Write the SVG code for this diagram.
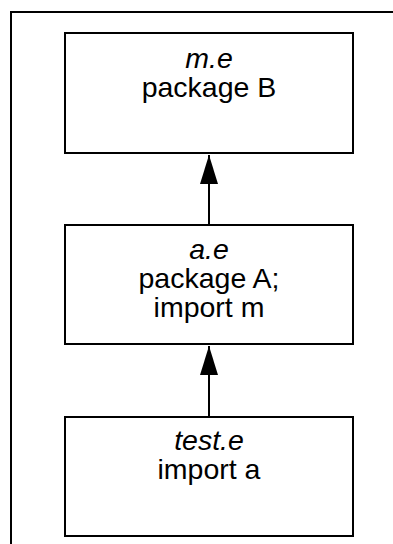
<svg xmlns="http://www.w3.org/2000/svg" width="393" height="544" viewBox="0 0 393 544">
<defs>
<style>
.box{fill:#fff;stroke:#000;stroke-width:2}
.t{font-family:"Liberation Sans",Arial,sans-serif;font-size:28.5px;text-anchor:middle;fill:#000}
.i{font-style:italic}
.c{stroke:#000;stroke-width:2;fill:none}
</style>
<marker id="ah" markerUnits="userSpaceOnUse" markerWidth="29" markerHeight="18" refX="29" refY="9" orient="auto" viewBox="0 0 29 18">
<path d="M0,0 L29,9 L0,18 Z" fill="#000"/>
</marker>
</defs>
<rect width="393" height="544" fill="#fff"/>
<path d="M11,544 V12 H393" fill="none" stroke="#000" stroke-width="2"/>
<g id="connectors">
<line class="c" x1="209" y1="225" x2="209" y2="155" marker-end="url(#ah)"/>
<line class="c" x1="209" y1="417" x2="209" y2="346" marker-end="url(#ah)"/>
</g>
<g id="m_e">
<rect class="box" x="65" y="33" width="288" height="120"/>
<text class="t i" x="209" y="68">m.e</text>
<text class="t" x="209" y="97">package B</text>
</g>
<g id="a_e">
<rect class="box" x="65" y="225" width="288" height="119"/>
<text class="t i" x="209" y="259">a.e</text>
<text class="t" x="209" y="288">package A;</text>
<text class="t" x="209" y="317">import m</text>
</g>
<g id="test_e">
<rect class="box" x="65" y="417" width="288" height="119"/>
<text class="t i" x="209" y="450">test.e</text>
<text class="t" x="209" y="479">import a</text>
</g>
</svg>
